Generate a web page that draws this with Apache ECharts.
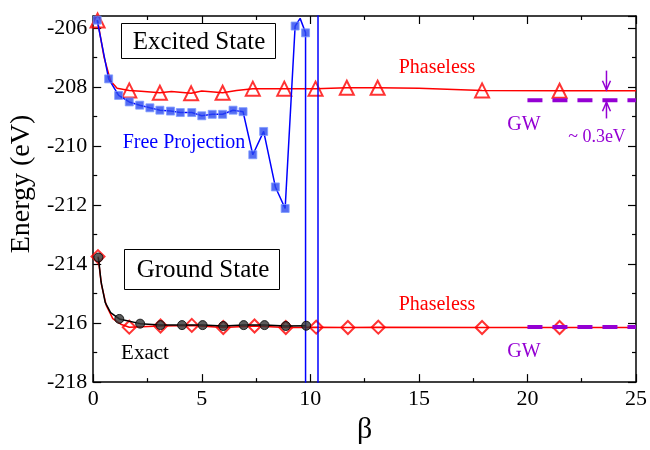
<!DOCTYPE html>
<html>
<head>
<meta charset="utf-8">
</head>
<body style="margin:0">
<div id="main" style="width:650px;height:450px"></div>
<script src="https://cdn.jsdelivr.net/npm/echarts@6/dist/echarts.min.js"></script>
<script>
var chart = echarts.init(document.getElementById('main'));
var SERIF = "'Liberation Serif', 'Times New Roman', 'DejaVu Serif', serif";

// excited state, phaseless: full curve and the points that carry a marker
var exPhaselessLine = [[0.2,-205.75],[0.5,-207.0],[0.8,-207.8],[1.1,-208.05],[1.66,-208.12],[2.2,-208.15],
    [3.07,-208.2],[3.6,-208.16],[4.51,-208.22],[5.0,-208.14],[5.96,-208.2],[6.6,-208.12],[7.35,-208.06],
    [8.8,-208.06],[10.24,-208.06],[11.68,-208.03],[13.1,-208.03],[15.0,-208.05],[17.91,-208.12],
    [21.48,-208.13],[25.0,-208.13]];
var exPhaselessMarks = [[0.2,-205.75],[1.66,-208.12],[3.07,-208.2],[4.51,-208.22],[5.96,-208.2],[7.35,-208.06],
    [8.8,-208.06],[10.24,-208.06],[11.68,-208.03],[13.1,-208.03],[17.91,-208.12],[21.48,-208.13]];

// excited state, free projection (diverges near beta ~ 10)
var freeProjMarks = [[0.18,-205.74],[0.71,-207.73],[1.17,-208.29],[1.66,-208.51],[2.14,-208.62],[2.61,-208.71],
    [3.07,-208.79],[3.56,-208.82],[4.01,-208.87],[4.54,-208.87],[5.0,-208.98],[5.48,-208.93],[5.96,-208.93],
    [6.44,-208.79],[6.9,-208.84],[7.35,-210.3],[7.85,-209.51],[8.39,-211.39],[8.84,-212.12],[9.3,-205.94],
    [9.78,-206.17]];
var freeProjLine = freeProjMarks.slice(0, 20).concat([[9.53,-205.68],[9.78,-206.17],[9.79,-600],[10.35,-600],[10.36,600]]);

// ground state
var gsExactLine = [[0.24,-213.78],[0.36,-214.6],[0.55,-215.3],[0.8,-215.65],[1.2,-215.86],[2.16,-216.02],
    [3.1,-216.07],[4.09,-216.07],[5.04,-216.07],[5.99,-216.1],[6.93,-216.07],[7.89,-216.07],[8.87,-216.1],[9.81,-216.09]];
var gsExactMarks = [[0.24,-213.78],[1.2,-215.86],[2.16,-216.02],[3.1,-216.07],[4.09,-216.07],[5.04,-216.07],
    [5.99,-216.1],[6.93,-216.07],[7.89,-216.07],[8.87,-216.1],[9.81,-216.09]];
var gsPhaselessLine = [[0.22,-213.75],[0.38,-214.7],[0.6,-215.4],[0.9,-215.85],[1.3,-216.05],[1.66,-216.14],
    [3.1,-216.1],[4.54,-216.08],[5.99,-216.15],[7.43,-216.1],[8.87,-216.15],[10.27,-216.14],[11.73,-216.15],
    [13.13,-216.14],[17.91,-216.15],[21.48,-216.15],[25.0,-216.15]];
var gsPhaselessMarks = [[0.22,-213.75],[1.66,-216.14],[3.1,-216.1],[4.54,-216.08],[5.99,-216.15],[7.43,-216.1],
    [8.87,-216.15],[10.27,-216.14],[11.73,-216.15],[13.13,-216.14],[17.91,-216.15],[21.48,-216.15]];

// GW reference levels
var gwExcited = [[20,-208.45],[25,-208.45]];
var gwGround = [[20,-216.13],[25,-216.13]];

var RED = '#ff0000', BLUE = '#0000ff', PURPLE = '#9400d3';

function axisCommon(showLabel) {
    return {
        axisLine: {show: true, onZero: false, lineStyle: {color: '#000', width: 1.5}},
        axisTick: {show: true, inside: true, length: 8, lineStyle: {color: '#000', width: 1.2}},
        minorTick: {show: true, splitNumber: 2, length: 4, lineStyle: {color: '#000', width: 1.2}},
        splitLine: {show: false},
        axisLabel: {show: showLabel, color: '#000', fontFamily: SERIF, fontSize: 22}
    };
}

var xBottom = axisCommon(true);
xBottom = Object.assign(xBottom, {type: 'value', position: 'bottom', min: 0, max: 25, interval: 5,
    name: 'β', nameLocation: 'middle', nameGap: 22,
    nameTextStyle: {color: '#000', fontFamily: SERIF, fontSize: 30}});
xBottom.axisLabel.margin = 6;
var xTop = Object.assign(axisCommon(false), {type: 'value', position: 'top', min: 0, max: 25, interval: 5});
var yLeft = axisCommon(true);
yLeft = Object.assign(yLeft, {type: 'value', position: 'left', min: -218, max: -205.6, interval: 2,
    name: 'Energy (eV)', nameLocation: 'middle', nameGap: 52,
    nameTextStyle: {color: '#000', fontFamily: SERIF, fontSize: 28, padding: [0, 0, 0, 30]}});
yLeft.axisLabel.margin = 6;
yLeft.axisLabel.formatter = function (v) { return Math.abs(v % 2) < 1e-9 ? String(v) : ''; };
var yRight = Object.assign(axisCommon(false), {type: 'value', position: 'right', min: -218, max: -205.6, interval: 2});

function line(data, color, width, z) {
    return {type: 'line', data: data, showSymbol: false, symbol: 'none', clip: true, z: z,
        lineStyle: {color: color, width: width}, animation: false, silent: true};
}
function marks(data, symbol, size, style, z) {
    return {type: 'scatter', data: data, symbol: symbol, symbolSize: size, itemStyle: style, z: z,
        animation: false, silent: true};
}

var option = {
    animation: false,
    grid: {left: 92, right: 9.5, top: 16, bottom: 63.3},
    xAxis: [xBottom, xTop],
    yAxis: [yLeft, yRight],
    series: [
        line(exPhaselessLine, RED, 1.5, 2),
        marks(exPhaselessMarks, 'triangle', 14, {color: 'rgba(255,255,255,0)', borderColor: RED, borderWidth: 2}, 3),
        line(freeProjLine, BLUE, 1.5, 4),
        marks(freeProjMarks, 'rect', 8, {color: '#2a48f0', borderColor: '#7f9cff', borderWidth: 1}, 5),
        {type: 'line', data: gwExcited, symbol: 'none', z: 6, animation: false,
            lineStyle: {color: PURPLE, width: 4, type: [15, 10]}},
        line(gsPhaselessLine, RED, 1.5, 2),
        marks(gsPhaselessMarks, 'diamond', 13, {color: 'rgba(255,255,255,0)', borderColor: RED, borderWidth: 2}, 3),
        line(gsExactLine, '#000', 1.5, 4),
        marks(gsExactMarks, 'circle', 9, {color: '#333', borderColor: '#000', borderWidth: 1}, 5),
        {type: 'line', data: gwGround, symbol: 'none', z: 6, animation: false,
            lineStyle: {color: PURPLE, width: 4, type: [15, 10]}}
    ]
};
chart.setOption(option);

// annotations
function px(p) { return chart.convertToPixel({xAxisIndex: 0, yAxisIndex: 0}, p); }
function txt(x, y, s, color, size) {
    return {type: 'text', x: x, y: y, z: 20, style: {text: s, fill: color, fontSize: size, fontFamily: SERIF,
        align: 'center', verticalAlign: 'middle'}};
}
var a1 = px([23.64, -207.45]), a1tip = px([23.64, -208.1]);
var a2 = px([23.64, -209.07]), a2tip = px([23.64, -208.52]);
var arrowStyle = {stroke: PURPLE, lineWidth: 1.5, fill: null};
chart.setOption({
    graphic: [
        {type: 'rect', z: 20, shape: {x: 121.5, y: 23.5, width: 154, height: 35},
            style: {fill: '#fff', stroke: '#000', lineWidth: 1}},
        txt(199, 42, 'Excited State', '#000', 25),
        {type: 'rect', z: 20, shape: {x: 124.5, y: 249.5, width: 155, height: 40},
            style: {fill: '#fff', stroke: '#000', lineWidth: 1}},
        txt(203, 270, 'Ground State', '#000', 25),
        txt(437, 68, 'Phaseless', RED, 20),
        txt(437, 305, 'Phaseless', RED, 20),
        txt(184, 143, 'Free Projection', BLUE, 20),
        txt(145, 353, 'Exact', '#000', 21),
        txt(524, 125, 'GW', PURPLE, 20),
        txt(524, 352, 'GW', PURPLE, 20),
        txt(597, 137, '~ 0.3eV', PURPLE, 18),
        {type: 'polyline', z: 20, shape: {points: [a1, a1tip]}, style: arrowStyle},
        {type: 'polyline', z: 20, shape: {points: [[a1tip[0] - 4, a1tip[1] - 9], a1tip, [a1tip[0] + 4, a1tip[1] - 9]]}, style: arrowStyle},
        {type: 'polyline', z: 20, shape: {points: [a2, a2tip]}, style: arrowStyle},
        {type: 'polyline', z: 20, shape: {points: [[a2tip[0] - 4, a2tip[1] + 9], a2tip, [a2tip[0] + 4, a2tip[1] + 9]]}, style: arrowStyle}
    ]
});
</script>
</body>
</html>
